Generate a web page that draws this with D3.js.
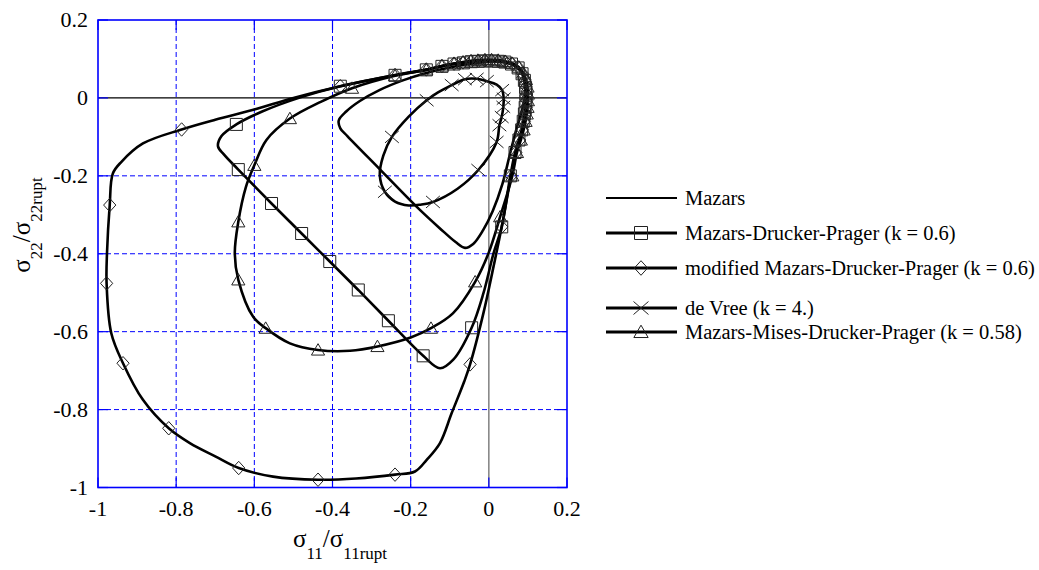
<!DOCTYPE html>
<html>
<head>
<meta charset="utf-8">
<script src="https://cdn.jsdelivr.net/npm/d3@7"></script>
<style>
  body { margin: 0; background: #fff; }
  svg { display: block; }
  text { font-family: "Liberation Serif", "Times New Roman", "DejaVu Serif", serif; }
</style>
</head>
<body>
<div id="chart"></div>
<script>
// axis ticks
const ticks = [-1, -0.8, -0.6, -0.4, -0.2, 0, 0.2];
const tickLabels = ["-1", "-0.8", "-0.6", "-0.4", "-0.2", "0", "0.2"];

// series: [sigma11, sigma22, marker?]
const mazars = [
  [0.092, 0.000, 0], [0.092, 0.035, 0], [0.085, 0.065, 0], [0.065, 0.084, 0],
  [0.035, 0.092, 0], [0.000, 0.093, 0], [-0.050, 0.087, 0], [-0.100, 0.078, 0],
  [-0.160, 0.064, 0], [-0.220, 0.045, 0], [-0.280, 0.020, 0], [-0.330, -0.008, 0],
  [-0.365, -0.035, 0], [-0.384, -0.058, 0], [-0.380, -0.078, 0], [-0.362, -0.098, 0],
  [-0.280, -0.182, 0], [-0.185, -0.279, 0], [-0.125, -0.335, 0], [-0.085, -0.370, 0],
  [-0.061, -0.385, 0], [-0.040, -0.375, 0], [-0.015, -0.340, 0], [0.010, -0.290, 0],
  [0.035, -0.220, 0], [0.055, -0.140, 0], [0.072, -0.075, 0], [0.085, -0.030, 0]
];

const druckerPrager = [
  [0.095, 0.010, 1], [0.094, 0.027, 1], [0.091, 0.045, 1], [0.085, 0.062, 1],
  [0.075, 0.077, 1], [0.058, 0.087, 1], [0.041, 0.092, 1], [0.024, 0.094, 1],
  [0.007, 0.095, 1], [-0.010, 0.095, 1], [-0.027, 0.094, 1], [-0.045, 0.093, 1],
  [-0.065, 0.090, 1], [-0.089, 0.087, 1], [-0.120, 0.081, 1], [-0.160, 0.072, 1],
  [-0.240, 0.058, 1], [-0.380, 0.030, 1], [-0.480, 0.002, 0], [-0.580, -0.035, 0],
  [-0.646, -0.068, 1], [-0.684, -0.098, 0], [-0.693, -0.124, 0], [-0.678, -0.145, 0],
  [-0.641, -0.184, 1], [-0.556, -0.271, 1], [-0.479, -0.348, 1], [-0.407, -0.420, 1],
  [-0.334, -0.493, 1], [-0.257, -0.572, 1], [-0.168, -0.662, 1], [-0.125, -0.694, 0],
  [-0.091, -0.672, 0], [-0.044, -0.590, 1], [-0.014, -0.502, 0], [0.012, -0.399, 0],
  [0.033, -0.331, 1], [0.055, -0.200, 1], [0.067, -0.140, 1], [0.077, -0.108, 1],
  [0.084, -0.082, 1], [0.088, -0.060, 1], [0.091, -0.041, 1], [0.093, -0.024, 1],
  [0.095, -0.007, 1]
];

const modifiedDP = [
  [0.097, 0.010, 1], [0.096, 0.028, 1], [0.093, 0.046, 1], [0.086, 0.063, 1],
  [0.076, 0.078, 1], [0.059, 0.088, 1], [0.042, 0.093, 1], [0.024, 0.095, 1],
  [0.007, 0.096, 1], [-0.010, 0.096, 1], [-0.027, 0.095, 1], [-0.045, 0.094, 1],
  [-0.066, 0.091, 1], [-0.089, 0.088, 1], [-0.120, 0.082, 1], [-0.160, 0.073, 1],
  [-0.240, 0.059, 1], [-0.380, 0.030, 1], [-0.500, 0.000, 0], [-0.600, -0.030, 0],
  [-0.700, -0.056, 0], [-0.786, -0.081, 1], [-0.885, -0.117, 0], [-0.940, -0.164, 0],
  [-0.962, -0.194, 0], [-0.970, -0.275, 1], [-0.977, -0.399, 0], [-0.978, -0.476, 1],
  [-0.966, -0.604, 0], [-0.936, -0.681, 1], [-0.885, -0.775, 0], [-0.819, -0.848, 1],
  [-0.765, -0.886, 0], [-0.700, -0.920, 0], [-0.640, -0.950, 1], [-0.552, -0.972, 0],
  [-0.437, -0.980, 1], [-0.340, -0.977, 0], [-0.240, -0.967, 1], [-0.189, -0.959, 0],
  [-0.159, -0.929, 0], [-0.125, -0.886, 0], [-0.095, -0.809, 0], [-0.063, -0.728, 0],
  [-0.048, -0.684, 1], [-0.014, -0.553, 0], [0.012, -0.433, 0], [0.033, -0.331, 1],
  [0.057, -0.200, 1], [0.069, -0.140, 1], [0.079, -0.108, 1], [0.086, -0.082, 1],
  [0.091, -0.060, 1], [0.094, -0.041, 1], [0.096, -0.024, 1], [0.097, -0.007, 1]
];

const deVree = [
  [0.038, -0.002, 1], [0.034, 0.020, 1], [0.020, 0.034, 0], [-0.005, 0.043, 1],
  [-0.031, 0.049, 1], [-0.061, 0.048, 1], [-0.095, 0.033, 1], [-0.130, 0.014, 0],
  [-0.159, -0.006, 1], [-0.205, -0.048, 0], [-0.248, -0.100, 1], [-0.270, -0.148, 0],
  [-0.279, -0.198, 0], [-0.266, -0.241, 1], [-0.240, -0.266, 0], [-0.205, -0.276, 0],
  [-0.175, -0.274, 0], [-0.143, -0.267, 1], [-0.080, -0.233, 0], [-0.027, -0.185, 1],
  [0.020, -0.113, 1], [0.027, -0.070, 1], [0.033, -0.049, 1], [0.037, -0.023, 1]
];

const misesDP = [
  [0.100, 0.010, 1], [0.099, 0.028, 1], [0.095, 0.047, 1], [0.088, 0.064, 1],
  [0.077, 0.079, 1], [0.060, 0.089, 1], [0.042, 0.094, 1], [0.024, 0.097, 1],
  [0.007, 0.098, 1], [-0.010, 0.098, 1], [-0.028, 0.097, 1], [-0.046, 0.095, 1],
  [-0.066, 0.092, 1], [-0.089, 0.088, 1], [-0.120, 0.082, 1], [-0.160, 0.072, 1],
  [-0.240, 0.057, 1], [-0.350, 0.025, 1], [-0.430, -0.010, 0], [-0.509, -0.053, 1],
  [-0.569, -0.108, 0], [-0.600, -0.173, 1], [-0.622, -0.230, 0], [-0.641, -0.318, 1],
  [-0.650, -0.399, 0], [-0.641, -0.467, 1], [-0.603, -0.562, 0], [-0.571, -0.591, 1],
  [-0.509, -0.630, 0], [-0.437, -0.647, 1], [-0.355, -0.649, 0], [-0.285, -0.638, 1],
  [-0.200, -0.615, 0], [-0.148, -0.591, 1], [-0.092, -0.553, 0], [-0.035, -0.472, 1],
  [-0.001, -0.399, 0], [0.029, -0.305, 1], [0.060, -0.200, 1], [0.072, -0.140, 1],
  [0.082, -0.108, 1], [0.089, -0.082, 1], [0.094, -0.060, 1], [0.097, -0.041, 1],
  [0.099, -0.024, 1], [0.100, -0.007, 1]
];

const seriesNames = [
  "Mazars",
  "Mazars-Drucker-Prager (k = 0.6)",
  "modified Mazars-Drucker-Prager (k = 0.6)",
  "de Vree (k = 4.)",
  "Mazars-Mises-Drucker-Prager (k = 0.58)"
];
const seriesData = [mazars, druckerPrager, modifiedDP, deVree, misesDP];
const seriesMarkers = ["none", "square", "diamond", "cross", "triangle"];

const width = 1039, height = 570;
const plot = { left: 98, right: 567, top: 20, bottom: 487.5 };
const serif = "'Liberation Serif', 'Times New Roman', 'DejaVu Serif', serif";

const svg = d3.select("#chart").append("svg")
  .attr("width", width)
  .attr("height", height)
  .attr("font-family", serif);

const x = d3.scaleLinear().domain([-1, 0.2]).range([plot.left, plot.right]);
const y = d3.scaleLinear().domain([-1, 0.2]).range([plot.bottom, plot.top]);

const blue = "#0000ff";

// grid
const inner = ticks.filter(t => t > -1 && t < 0);
const grid = svg.append("g")
  .attr("stroke", blue).attr("stroke-width", 1)
  .attr("stroke-dasharray", "5,3");
grid.selectAll(".vg")
  .data(inner)
  .join("line")
  .attr("x1", d => x(d)).attr("x2", d => x(d))
  .attr("y1", plot.top).attr("y2", plot.bottom);
grid.selectAll(".hg")
  .data(inner)
  .join("line")
  .attr("y1", d => y(d)).attr("y2", d => y(d))
  .attr("x1", plot.left).attr("x2", plot.right);

// zero lines
svg.append("line")
  .attr("x1", x(0)).attr("x2", x(0))
  .attr("y1", plot.top).attr("y2", plot.bottom)
  .attr("stroke", "#808080").attr("stroke-width", 1.5);
svg.append("line")
  .attr("x1", plot.left).attr("x2", plot.right)
  .attr("y1", y(0)).attr("y2", y(0))
  .attr("stroke", "#000").attr("stroke-width", 1.2);

// inward ticks
const tk = 10;
const tickG = svg.append("g").attr("stroke", blue).attr("stroke-width", 1.2);
ticks.forEach(t => {
  tickG.append("line").attr("x1", x(t)).attr("x2", x(t)).attr("y1", plot.bottom).attr("y2", plot.bottom - tk);
  tickG.append("line").attr("x1", x(t)).attr("x2", x(t)).attr("y1", plot.top).attr("y2", plot.top + tk);
  tickG.append("line").attr("y1", y(t)).attr("y2", y(t)).attr("x1", plot.left).attr("x2", plot.left + tk);
  tickG.append("line").attr("y1", y(t)).attr("y2", y(t)).attr("x1", plot.right).attr("x2", plot.right - tk);
});

// frame
svg.append("rect")
  .attr("x", plot.left).attr("y", plot.top)
  .attr("width", plot.right - plot.left).attr("height", plot.bottom - plot.top)
  .attr("fill", "none").attr("stroke", blue).attr("stroke-width", 1.6);

// tick labels
svg.append("g").selectAll("text")
  .data(ticks)
  .join("text")
  .attr("x", d => x(d)).attr("y", plot.bottom + 28)
  .attr("text-anchor", "middle")
  .attr("font-size", 22)
  .text((d, i) => tickLabels[i]);
svg.append("g").selectAll("text")
  .data(ticks)
  .join("text")
  .attr("x", plot.left - 10).attr("y", d => y(d) + 7)
  .attr("text-anchor", "end")
  .attr("font-size", 22)
  .text((d, i) => tickLabels[i]);

// marker shapes
function markerPath(type, s) {
  const h = s / 2;
  if (type === "square") return `M${-h},${-h}H${h}V${h}H${-h}Z`;
  if (type === "diamond") return `M0,${-h * 1.12}L${h * 1.02},0L0,${h * 1.12}L${-h * 1.02},0Z`;
  if (type === "triangle") return `M0,${-h * 1.05}L${h * 1.1},${h * 0.85}L${-h * 1.1},${h * 0.85}Z`;
  if (type === "cross") return `M${-h * 1.15},${-h}L${h * 1.15},${h}M${-h * 1.15},${h}L${h * 1.15},${-h}`;
  return "";
}

const line = d3.line()
  .x(d => x(d[0]))
  .y(d => y(d[1]))
  .curve(d3.curveCatmullRomClosed.alpha(0.5));

const curves = svg.append("g");
seriesData.forEach(data => {
  curves.append("path")
    .attr("d", line(data))
    .attr("fill", "none")
    .attr("stroke", "#000")
    .attr("stroke-width", 2.6)
    .attr("stroke-linejoin", "round");
});
seriesData.forEach((data, i) => {
  if (seriesMarkers[i] === "none") return;
  curves.append("g").selectAll("path")
    .data(data.filter(d => d[2]))
    .join("path")
    .attr("transform", d => `translate(${x(d[0])},${y(d[1])})`)
    .attr("d", markerPath(seriesMarkers[i], 12))
    .attr("fill", "none")
    .attr("stroke", "#222")
    .attr("stroke-width", 1);
});

// axis titles
const xt = svg.append("text")
  .attr("x", 340).attr("y", 547)
  .attr("text-anchor", "middle")
  .attr("font-size", 25);
xt.append("tspan").text("σ");
xt.append("tspan").attr("font-size", 17).attr("dy", 12).text("11");
xt.append("tspan").attr("dy", -12).text("/σ");
xt.append("tspan").attr("font-size", 17).attr("dy", 12).text("11rupt");

const yt = svg.append("text")
  .attr("transform", "translate(30,225) rotate(-90)")
  .attr("text-anchor", "middle")
  .attr("font-size", 25);
yt.append("tspan").text("σ");
yt.append("tspan").attr("font-size", 17).attr("dy", 12).text("22");
yt.append("tspan").attr("dy", -12).text("/σ");
yt.append("tspan").attr("font-size", 17).attr("dy", 12).text("22rupt");

// legend
const legendY = [198, 233, 268, 308, 332];
const legend = svg.append("g");
seriesNames.forEach((name, i) => {
  const ly = legendY[i];
  legend.append("line")
    .attr("x1", 606).attr("x2", 677)
    .attr("y1", ly).attr("y2", ly)
    .attr("stroke", "#000").attr("stroke-width", i === 0 ? 2 : 2.8);
  if (seriesMarkers[i] !== "none") {
    legend.append("path")
      .attr("transform", `translate(641,${ly})`)
      .attr("d", markerPath(seriesMarkers[i], 13))
      .attr("fill", "none")
      .attr("stroke", "#222")
      .attr("stroke-width", 1);
  }
  legend.append("text")
    .attr("x", 685).attr("y", ly + 7)
    .attr("font-size", 20.5)
    .text(name);
});
</script>
</body>
</html>
